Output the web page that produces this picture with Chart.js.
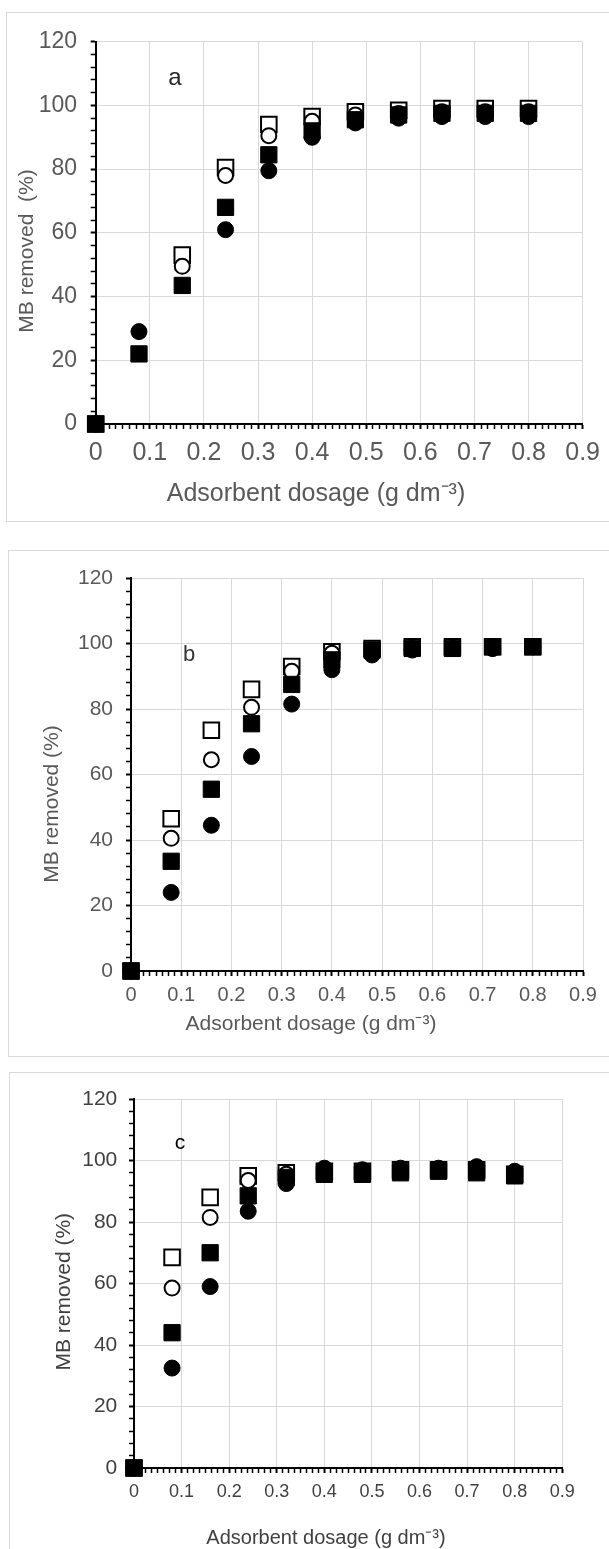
<!DOCTYPE html>
<html><head><meta charset="utf-8">
<script src="https://cdn.jsdelivr.net/npm/chart.js@4.4.1/dist/chart.umd.min.js"></script>
<style>
html,body{margin:0;padding:0;background:#fff;width:609px;height:1549px;overflow:hidden;position:relative;}
.box{position:absolute;border:1px solid #d9d9d9;box-sizing:border-box;}
.wrap{position:absolute;left:0;width:609px;}
canvas{display:block;}
</style></head><body>
<div class="box" style="left:6px;top:12px;width:620px;height:510px"></div>
<div class="box" style="left:8px;top:550px;width:620px;height:507px"></div>
<div class="box" style="left:9px;top:1072px;width:620px;height:500px"></div>
<div class="wrap" style="top:0px;height:530px"><canvas id="ca" width="609" height="530"></canvas></div>
<div class="wrap" style="top:535px;height:530px"><canvas id="cb" width="609" height="530"></canvas></div>
<div class="wrap" style="top:1060px;height:489px"><canvas id="cc" width="609" height="489"></canvas></div>
<script>
// ---------- data ----------
const dosage = [0, 0.08, 0.16, 0.24, 0.32, 0.40, 0.48, 0.56, 0.64, 0.72, 0.80];
const xTickLabels = ['0','0.1','0.2','0.3','0.4','0.5','0.6','0.7','0.8','0.9'];
const yTickLabels = ['0','20','40','60','80','100','120'];
const xTitle = 'Adsorbent dosage (g dm\u207B\u00B3)';
const yTitles = ['MB removed  (%)', 'MB removed (%)', 'MB removed (%)'];
const panelLetters = ['a', 'b', 'c'];

// panel a
const aOpenSquare   = [0, null, 53.0, 80.5, 94.0, 96.5, 98.0, 98.5, 99.0, 99.0, 99.0];
const aOpenCircle   = [0, null, 49.5, 78.0, 90.5, 95.0, 97.0, 97.5, 98.0, 98.0, 98.0];
const aFilledSquare = [0, 22.0, 43.5, 68.0, 84.5, 92.0, 95.5, 97.0, 97.5, 97.5, 97.5];
const aFilledCircle = [0, 29.0, null, 61.0, 79.5, 90.0, 94.5, 96.0, 96.5, 96.5, 96.5];
// panel b
const bOpenSquare   = [0, 46.5, 73.5, 86.0, 93.0, 97.5, 98.5, 99.0, 99.0, 99.0, 99.0];
const bOpenCircle   = [0, 40.5, 64.5, 80.5, 91.5, 97.0, 98.0, 98.5, 98.5, 98.5, 99.0];
const bFilledSquare = [0, 33.5, 55.5, 75.5, 87.5, 95.0, 98.0, 98.5, 98.5, 99.0, 99.0];
const bFilledCircle = [0, 24.0, 44.5, 65.5, 81.5, 92.0, 96.5, 98.0, 98.5, 98.5, 99.0];
// panel c
const cOpenSquare   = [0, 68.5, 88.0, 95.0, 96.0, 96.5, 96.5, 97.0, 97.0, 97.0, 95.5];
const cOpenCircle   = [0, 58.5, 81.5, 93.5, 95.5, 96.5, 96.5, 97.0, 97.0, 97.5, 95.5];
const cFilledSquare = [0, 44.0, 70.0, 88.5, 94.5, 95.5, 95.5, 96.0, 96.5, 96.0, 95.0];
const cFilledCircle = [0, 32.5, 59.0, 83.5, 92.5, 97.5, 97.0, 97.5, 97.5, 98.0, 96.5];

// ---------- styles ----------
const FONT = '"Liberation Sans", Arial, sans-serif';
const markerStyles = [
  {pointStyle:'rect',   pointRadius:11,   pointBackgroundColor:'#ffffff', pointBorderColor:'#000', pointBorderWidth:2, order:4},
  {pointStyle:'circle', pointRadius:7.5,  pointBackgroundColor:'#ffffff', pointBorderColor:'#000', pointBorderWidth:2, order:3},
  {pointStyle:'rect',   pointRadius:11.5, pointBackgroundColor:'#000000', pointBorderColor:'#000', pointBorderWidth:1, order:2},
  {pointStyle:'circle', pointRadius:8,    pointBackgroundColor:'#000000', pointBorderColor:'#000', pointBorderWidth:1, order:1}
];

const panelText = {
  id: 'panelText',
  afterDraw(chart, args, o) {
    const ctx = chart.ctx;
    const xs = chart.scales.x, ys = chart.scales.y;
    ctx.save();
    ctx.fillStyle = o.titleColor;
    ctx.textAlign = 'center';
    ctx.textBaseline = 'middle';
    ctx.font = o.xTitleFont;
    ctx.fillText(o.xTitle, o.xTitleX, o.xTitleY);
    ctx.save();
    ctx.translate(o.yTitleX, o.yTitleY);
    ctx.rotate(-Math.PI / 2);
    ctx.font = o.yTitleFont;
    ctx.fillText(o.yTitle, 0, 0);
    ctx.restore();
    ctx.font = o.letterFont;
    ctx.fillStyle = o.letterColor;
    ctx.textBaseline = 'alphabetic';
    ctx.fillText(o.letter, xs.getPixelForValue(o.letterX), ys.getPixelForValue(o.letterY));
    ctx.restore();
  }
};

function isMult(v, step) { const k = v / step; return Math.abs(k - Math.round(k)) < 1e-6; }

function makePanel(id, series, p) {
  const datasets = series.map((ys, i) => Object.assign({
    label: 'series ' + (i + 1),
    data: dosage.map((x, j) => ({x: x, y: ys[j]})),
    showLine: false,
    clip: false,
    pointHoverRadius: markerStyles[i].pointRadius
  }, markerStyles[i]));
  new Chart(document.getElementById(id), {
    type: 'scatter',
    data: {datasets},
    options: {
      responsive: false,
      animation: false,
      devicePixelRatio: 1,
      events: [],
      layout: {padding: {left: 0, top: p.top, right: p.right, bottom: 0}},
      plugins: {
        legend: {display: false},
        tooltip: {enabled: false},
        panelText: p.text
      },
      scales: {
        x: {
          type: 'linear', min: 0, max: 0.9,
          afterFit: s => { s.height = p.xAxisH; },
          border: {color: '#000', width: 2},
          grid: {
            color: c => (c.tick && isMult(c.tick.value, 0.1)) ? '#d9d9d9' : 'rgba(0,0,0,0)',
            lineWidth: 1,
            tickColor: '#000',
            tickWidth: c => (c.tick && isMult(c.tick.value, 0.1)) ? 2 : 1.5,
            tickLength: 5
          },
          ticks: {
            stepSize: 0.0125, autoSkip: false, maxRotation: 0, minRotation: 0,
            padding: p.xTickPad, color: p.tickColor,
            font: {family: FONT, size: p.xTickSize},
            callback: v => isMult(v, 0.1) ? xTickLabels[Math.round(v / 0.1)] : ''
          }
        },
        y: {
          type: 'linear', min: 0, max: 120,
          afterFit: s => { s.width = p.yAxisW; },
          border: {color: '#000', width: 2},
          grid: {
            color: c => (c.tick && isMult(c.tick.value, 20)) ? '#d9d9d9' : 'rgba(0,0,0,0)',
            lineWidth: 1,
            tickColor: '#000',
            tickWidth: c => (c.tick && isMult(c.tick.value, 20)) ? 2 : 1.5,
            tickLength: 5
          },
          ticks: {
            stepSize: 4, autoSkip: false,
            padding: p.yTickPad, color: p.tickColor,
            font: {family: FONT, size: p.yTickSize},
            callback: v => isMult(v, 20) ? yTickLabels[Math.round(v / 20)] : ''
          }
        }
      }
    },
    plugins: [panelText]
  });
}

makePanel('ca', [aOpenSquare, aOpenCircle, aFilledSquare, aFilledCircle], {
  top: 41.7, right: 25.7, xAxisH: 106, yAxisW: 95.7,
  xTickPad: 9, yTickPad: 13.7, xTickSize: 25, yTickSize: 23, tickColor: '#595959',
  text: {titleColor: '#595959', xTitle: xTitle, xTitleFont: '25px ' + FONT, xTitleX: 316, xTitleY: 494,
         yTitle: yTitles[0], yTitleFont: '21px ' + FONT, yTitleX: 27, yTitleY: 251,
         letter: panelLetters[0], letterFont: '24px ' + FONT, letterColor: '#262626', letterX: 0.1464, letterY: 106.5}
});
makePanel('cb', [bOpenSquare, bOpenCircle, bFilledSquare, bFilledCircle], {
  top: 43, right: 26, xAxisH: 94, yAxisW: 131,
  xTickPad: 7, yTickPad: 13, xTickSize: 20, yTickSize: 21, tickColor: '#595959',
  text: {titleColor: '#595959', xTitle: xTitle, xTitleFont: '21px ' + FONT, xTitleX: 311, xTitleY: 489,
         yTitle: yTitles[1], yTitleFont: '21px ' + FONT, yTitleX: 52, yTitleY: 269,
         letter: panelLetters[1], letterFont: '22px ' + FONT, letterColor: '#333333', letterX: 0.1155, letterY: 94.7}
});
makePanel('cc', [cOpenSquare, cOpenCircle, cFilledSquare, cFilledCircle], {
  top: 39, right: 46.7, xAxisH: 81, yAxisW: 134,
  xTickPad: 8, yTickPad: 11.7, xTickSize: 18, yTickSize: 21, tickColor: '#404040',
  text: {titleColor: '#404040', xTitle: xTitle, xTitleFont: '20px ' + FONT, xTitleX: 326, xTitleY: 478,
         yTitle: yTitles[2], yTitleFont: '21px ' + FONT, yTitleX: 64, yTitleY: 231.7,
         letter: panelLetters[2], letterFont: '21px ' + FONT, letterColor: '#000000', letterX: 0.0967, letterY: 103.6}
});
</script>
</body></html>
